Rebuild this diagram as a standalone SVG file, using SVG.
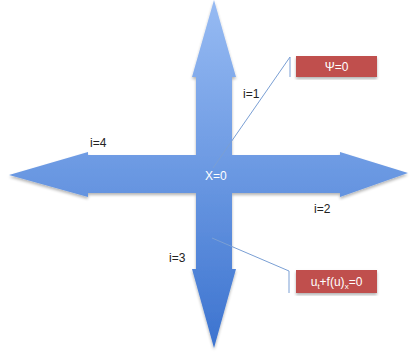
<svg xmlns="http://www.w3.org/2000/svg" width="411" height="356" viewBox="0 0 411 356">
<defs>
<linearGradient id="g" x1="0" y1="0" x2="0" y2="348" gradientUnits="userSpaceOnUse">
<stop offset="0" stop-color="#97bbf3"/>
<stop offset="0.5" stop-color="#6a98e2"/>
<stop offset="1" stop-color="#3c73cf"/>
</linearGradient>
<filter id="sh" x="-10%" y="-10%" width="120%" height="120%">
<feGaussianBlur in="SourceAlpha" stdDeviation="1.5"/>
<feOffset dx="0" dy="1.5"/>
<feComponentTransfer><feFuncA type="linear" slope="0.3"/></feComponentTransfer>
<feMerge><feMergeNode/><feMergeNode in="SourceGraphic"/></feMerge>
</filter>
</defs>
<style>
.lbl{font-family:"Liberation Sans",Arial,sans-serif;font-size:12px;fill:#222}
.wt{font-family:"Liberation Sans",Arial,sans-serif;font-size:12px;fill:#fff}
.box{fill:#c0504d;filter:url(#sh)}
.lead{stroke:#7a9fd4;stroke-width:1;fill:none}
</style>
<g id="quad-arrow">
<path d="M214,0 L236,77 L232,77 L232,155 L340,155 L340,152 L408,173 L340,197 L340,193 L232,193 L232,269 L236,269 L214,348 L192,269 L196,269 L196,193 L88,193 L88,197 L9,175 L88,152 L88,155 L196,155 L196,77 L192,77 Z" fill="url(#g)" filter="url(#sh)"/>
<text class="wt" x="205" y="180">X=0</text>
</g>
<g id="labels">
<text class="lbl" x="243" y="98">i=1</text>
<text class="lbl" x="314" y="213">i=2</text>
<text class="lbl" x="169" y="262">i=3</text>
<text class="lbl" x="90" y="147">i=4</text>
</g>
<g id="connectors">
<path class="lead" d="M213,168 L290,57 L290,77"/>
<path class="lead" d="M212,238 L289,271 L289,293"/>
</g>
<g id="callout-psi">
<rect class="box" x="296" y="56" width="81" height="21"/>
<text class="wt" x="336.5" y="71" text-anchor="middle">Ψ=0</text>
</g>
<g id="callout-ut">
<rect class="box" x="296" y="270" width="81" height="23"/>
<text class="wt" x="336.5" y="286" text-anchor="middle">u<tspan font-size="8" dy="3">t</tspan><tspan dy="-3">+f(u)</tspan><tspan font-size="8" dy="3">x</tspan><tspan dy="-3">=0</tspan></text>
</g>
</svg>
